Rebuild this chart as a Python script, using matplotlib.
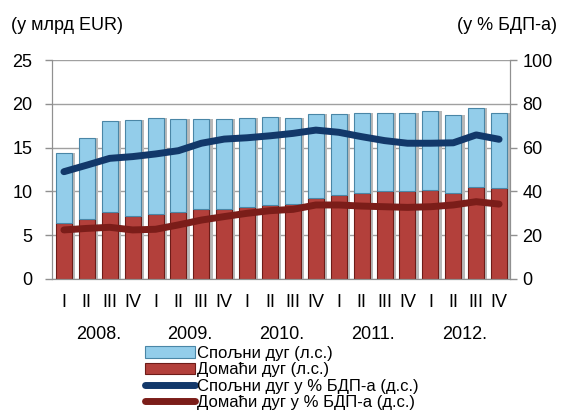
import numpy as np
import matplotlib.pyplot as plt

plt.rcParams['font.family'] = ['Liberation Sans', 'DejaVu Sans']

# квартали 2008-2012
quarters = ['I', 'II', 'III', 'IV'] * 5
years = ['2008.', '2009.', '2010.', '2011.', '2012.']

# млрд EUR (л.с.)
domestic = [6.4, 6.9, 7.6, 7.2, 7.4, 7.7, 7.95, 8.0, 8.2, 8.5,
            8.6, 9.3, 9.6, 9.85, 10.0, 10.1, 10.15, 9.8, 10.45, 10.35]
total = [14.4, 16.1, 18.0, 18.2, 18.4, 18.3, 18.3, 18.3, 18.4, 18.5,
         18.4, 18.8, 18.8, 19.0, 19.0, 19.0, 19.2, 18.7, 19.5, 19.0]
external = [t - d for t, d in zip(total, domestic)]

# % БДП-а (д.с.)
external_gdp = [49.0, 52.0, 55.1, 55.9, 57.1, 58.6, 62.0, 63.9, 64.5, 65.4,
                66.5, 68.0, 67.0, 65.0, 63.2, 62.0, 62.0, 62.2, 65.8, 63.8]
domestic_gdp = [22.4, 23.1, 23.6, 22.4, 22.7, 24.7, 26.9, 28.5, 30.0, 31.2,
                31.8, 33.8, 33.8, 33.3, 33.0, 32.7, 33.0, 33.8, 35.3, 34.2]

x = np.arange(len(quarters))
w = 0.7

fig = plt.figure(figsize=(5.63, 4.17), dpi=100)
ax = fig.add_axes([0.0924, 0.331, 0.8136, 0.525])
ax2 = ax.twinx()

# сенка иза стубића
ax.bar(x + 0.14, total, w, color='#b8b8b8', zorder=1)
ax.bar(x, domestic, w, color='#b3403b', edgecolor='#6e1c18', linewidth=0.8,
       zorder=2, label='Домаћи дуг (л.с.)')
ax.bar(x, external, w, bottom=domestic, color='#93cdea', edgecolor='#4a86a6',
       linewidth=0.8, zorder=2, label='Спољни дуг (л.с.)')

ax2.plot(x, external_gdp, color='#12386a', lw=5, solid_capstyle='round',
         label='Спољни дуг у % БДП-а (д.с.)')
ax2.plot(x, domestic_gdp, color='#7b1d19', lw=5, solid_capstyle='round',
         label='Домаћи дуг у % БДП-а (д.с.)')

ax.set_xlim(-0.52, 19.48)
ax.set_ylim(0, 25)
ax2.set_ylim(0, 100)
ax.set_yticks(range(0, 26, 5))
ax2.set_yticks(range(0, 101, 20))
ax.yaxis.grid(True, color='#a0a0a0', lw=1)
ax.set_axisbelow(True)

for a in (ax, ax2):
    a.tick_params(axis='y', labelsize=13, length=5, color='#909090', width=1)
    a.spines['top'].set_visible(False)
    for s in ('left', 'right', 'bottom'):
        a.spines[s].set_color('#909090')
ax.tick_params(axis='y', pad=9)
ax2.tick_params(axis='y', pad=4)

ax.set_xticks(x)
ax.set_xticklabels(quarters, fontsize=13)
ax.tick_params(axis='x', length=0, pad=11)

for k, yr in enumerate(years):
    ax.text(x[4 * k:4 * k + 4].mean(), -0.255, yr,
            transform=ax.get_xaxis_transform(),
            ha='center', va='center', fontsize=13)

fig.text(0.02, 0.938, '(у млрд EUR)', fontsize=13, va='center')
fig.text(0.99, 0.938, '(у % БДП-а)', fontsize=13, va='center', ha='right')

h1, l1 = ax.get_legend_handles_labels()
h2, l2 = ax2.get_legend_handles_labels()
handles = [h1[1], h1[0], h2[0], h2[1]]
labels = [l1[1], l1[0], l2[0], l2[1]]
fig.legend(handles, labels, loc='upper left', bbox_to_anchor=(0.258, 0.17),
           frameon=False, fontsize=12, labelspacing=0.08, handlelength=3.0,
           handletextpad=0.1, borderpad=0, borderaxespad=0)

fig.savefig('out.png', dpi=100)
